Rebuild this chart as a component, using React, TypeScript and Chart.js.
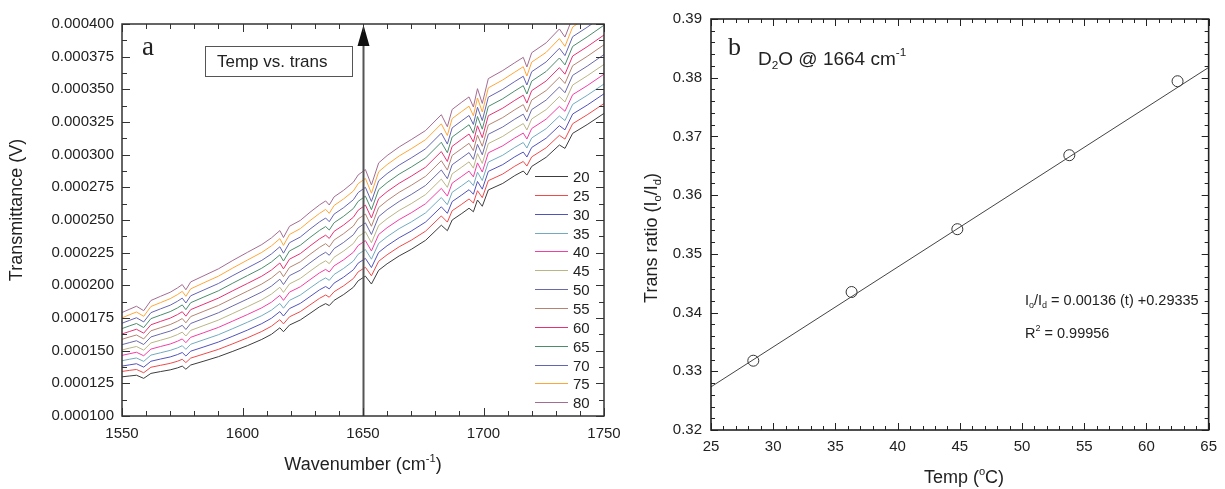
import React, { useEffect, useRef } from 'react';
import { Chart, registerables } from 'chart.js';
Chart.register(...registerables);

// ---------- Panel a: transmittance spectra (values in µV) ----------
const wavenumbers = [1550, 1553, 1556, 1559, 1562, 1566, 1570, 1573, 1575, 1576.5, 1578.5, 1584, 1590, 1596, 1602, 1608, 1612, 1615.5, 1617, 1619.5, 1624, 1628, 1632, 1634.5, 1636, 1638, 1642, 1646, 1648, 1651, 1653.5, 1656.5, 1660, 1665, 1670, 1676, 1682.5, 1685, 1687, 1691, 1694, 1695.8, 1697.5, 1699.5, 1702, 1708, 1713, 1716.5, 1718, 1720, 1726, 1731.5, 1733.8, 1737, 1743, 1750];

const t20 = [130.0, 130.6, 131.2, 128.8, 132.6, 134.0, 135.3, 136.8, 138.2, 135.8, 139.0, 142.0, 145.4, 149.5, 153.8, 158.6, 162.5, 167.5, 164.5, 169.6, 173.5, 178.5, 183.6, 186.0, 184.5, 188.5, 193.0, 198.5, 203.5, 207.0, 201.0, 211.5, 216.5, 222.5, 227.5, 234.5, 246.0, 241.8, 250.0, 255.0, 259.0, 256.3, 265.3, 260.5, 273.0, 278.0, 284.0, 287.5, 284.4, 291.0, 298.0, 307.4, 304.8, 316.3, 323.0, 331.6];
const t25 = [134.1, 134.9, 135.6, 133.1, 137.3, 138.8, 140.3, 141.9, 143.4, 140.9, 144.3, 147.5, 151.0, 155.3, 159.8, 164.7, 168.7, 173.7, 170.5, 175.9, 179.9, 185.0, 190.1, 192.6, 190.9, 195.1, 199.7, 205.2, 210.3, 213.8, 207.3, 218.4, 223.4, 229.5, 234.5, 241.5, 253.1, 248.4, 257.1, 262.1, 266.1, 263.0, 272.4, 267.1, 280.1, 285.2, 291.2, 294.8, 291.3, 298.3, 305.3, 314.8, 311.9, 323.7, 330.5, 339.1];
const t30 = [138.2, 139.1, 140.0, 137.4, 141.9, 143.6, 145.2, 147.0, 148.6, 145.9, 149.6, 152.9, 156.6, 161.1, 165.7, 170.7, 174.8, 179.9, 176.5, 182.2, 186.2, 191.4, 196.6, 199.1, 197.3, 201.7, 206.3, 211.9, 217.0, 220.6, 213.6, 225.2, 230.3, 236.4, 241.5, 248.5, 260.1, 255.1, 264.1, 269.2, 273.2, 269.7, 279.5, 273.6, 287.2, 292.4, 298.4, 302.0, 298.2, 305.5, 312.6, 322.2, 319.0, 331.1, 337.9, 346.6];
const t35 = [142.3, 143.4, 144.4, 141.8, 146.6, 148.4, 150.2, 152.1, 153.8, 151.0, 154.9, 158.4, 162.2, 166.9, 171.7, 176.8, 181.0, 186.1, 182.5, 188.5, 192.6, 197.9, 203.1, 205.7, 203.8, 208.3, 213.0, 218.6, 223.8, 227.4, 220.0, 232.1, 237.2, 243.4, 248.5, 255.5, 267.2, 261.7, 271.2, 276.3, 280.3, 276.3, 286.6, 280.2, 294.3, 299.6, 305.6, 309.3, 305.1, 312.8, 319.9, 329.6, 326.1, 338.5, 345.4, 354.1];
const t40 = [146.4, 147.6, 148.8, 146.1, 151.2, 153.2, 155.1, 157.2, 159.0, 156.1, 160.2, 163.8, 167.8, 172.7, 177.6, 182.8, 187.1, 192.3, 188.5, 194.8, 198.9, 204.3, 209.6, 212.2, 210.2, 214.9, 219.6, 225.3, 230.5, 234.2, 226.3, 238.9, 244.1, 250.3, 255.5, 262.5, 274.2, 268.3, 278.2, 283.4, 287.4, 283.0, 293.7, 286.7, 301.4, 306.8, 312.8, 316.5, 312.0, 320.0, 327.2, 337.0, 333.2, 345.9, 352.8, 361.6];
const t45 = [150.5, 151.9, 153.2, 150.4, 155.9, 158.0, 160.1, 162.3, 164.2, 161.2, 165.5, 169.3, 173.4, 178.5, 183.6, 188.9, 193.3, 198.5, 194.6, 201.1, 205.3, 210.8, 216.1, 218.8, 216.6, 221.5, 226.3, 232.0, 237.3, 241.0, 232.6, 245.8, 251.0, 257.3, 262.5, 269.5, 281.3, 275.0, 285.3, 290.5, 294.5, 289.7, 300.8, 293.3, 308.5, 314.0, 320.0, 323.8, 318.9, 327.3, 334.5, 344.4, 340.3, 353.3, 360.3, 369.1];
const t50 = [154.6, 156.1, 157.6, 154.7, 160.5, 162.8, 165.0, 167.4, 169.4, 166.2, 170.8, 174.7, 179.0, 184.3, 189.5, 194.9, 199.4, 204.7, 200.6, 207.4, 211.6, 217.2, 222.6, 225.3, 223.0, 228.1, 232.9, 238.7, 244.0, 247.8, 238.9, 252.6, 257.9, 264.2, 269.5, 276.5, 288.3, 281.6, 292.3, 297.6, 301.6, 296.4, 307.9, 299.9, 315.6, 321.2, 327.2, 331.0, 325.7, 334.5, 341.8, 351.8, 347.4, 360.7, 367.7, 376.6];
const t55 = [158.7, 160.4, 162.0, 159.0, 165.2, 167.6, 170.0, 172.5, 174.6, 171.3, 176.1, 180.2, 184.6, 190.1, 195.5, 201.0, 205.6, 210.9, 206.6, 213.7, 218.0, 223.7, 229.1, 231.9, 229.4, 234.7, 239.6, 245.4, 250.8, 254.6, 245.2, 259.5, 264.8, 271.2, 276.5, 283.5, 295.4, 288.2, 299.4, 304.7, 308.7, 303.1, 315.0, 306.4, 322.7, 328.4, 334.4, 338.3, 332.6, 341.8, 349.1, 359.2, 354.5, 368.1, 375.2, 384.1];
const t60 = [162.8, 164.6, 166.4, 163.4, 169.8, 172.4, 174.9, 177.6, 179.8, 176.4, 181.4, 185.6, 190.2, 195.9, 201.4, 207.0, 211.7, 217.1, 212.6, 220.0, 224.3, 230.1, 235.6, 238.4, 235.9, 241.3, 246.2, 252.1, 257.5, 261.4, 251.6, 266.3, 271.7, 278.1, 283.5, 290.5, 302.4, 294.8, 306.4, 311.8, 315.8, 309.7, 322.1, 313.0, 329.8, 335.6, 341.6, 345.5, 339.5, 349.0, 356.4, 366.6, 361.6, 375.5, 382.6, 391.6];
const t65 = [166.9, 168.9, 170.8, 167.7, 174.5, 177.2, 179.9, 182.7, 185.0, 181.4, 186.7, 191.1, 195.8, 201.7, 207.4, 213.1, 217.9, 223.3, 218.6, 226.3, 230.7, 236.6, 242.1, 245.0, 242.3, 247.9, 252.9, 258.8, 264.3, 268.2, 257.9, 273.2, 278.6, 285.1, 290.5, 297.5, 309.5, 301.5, 313.5, 318.9, 322.9, 316.4, 329.2, 319.5, 336.9, 342.8, 348.8, 352.8, 346.4, 356.3, 363.7, 374.0, 368.7, 382.9, 390.1, 399.1];
const t70 = [171.0, 173.1, 175.2, 172.0, 179.1, 182.0, 184.8, 187.8, 190.2, 186.5, 192.0, 196.5, 201.4, 207.5, 213.3, 219.1, 224.0, 229.5, 224.6, 232.6, 237.0, 243.0, 248.6, 251.5, 248.7, 254.5, 259.5, 265.5, 271.0, 275.0, 264.2, 280.0, 285.5, 292.0, 297.5, 304.5, 316.5, 308.1, 320.5, 326.0, 330.0, 323.1, 336.3, 326.1, 344.0, 350.0, 356.0, 360.0, 353.3, 363.5, 371.0, 381.4, 375.8, 390.3, 397.5, 406.6];
const t75 = [175.1, 177.4, 179.6, 176.3, 183.8, 186.8, 189.8, 192.9, 195.4, 191.6, 197.3, 202.0, 207.0, 213.3, 219.3, 225.2, 230.2, 235.7, 230.6, 238.9, 243.4, 249.5, 255.1, 258.1, 255.1, 261.1, 266.2, 272.2, 277.8, 281.8, 270.5, 286.9, 292.4, 299.0, 304.5, 311.5, 323.6, 314.7, 327.6, 333.1, 337.1, 329.8, 343.4, 332.7, 351.1, 357.2, 363.2, 367.3, 360.2, 370.8, 378.3, 388.8, 382.9, 397.7, 405.0, 414.1];
const t80 = [179.2, 181.6, 184.0, 180.6, 188.4, 191.6, 194.7, 198.0, 200.6, 196.6, 202.6, 207.4, 212.6, 219.1, 225.2, 231.2, 236.3, 241.9, 236.6, 245.2, 249.7, 255.9, 261.6, 264.6, 261.5, 267.7, 272.8, 278.9, 284.5, 288.6, 276.8, 293.7, 299.3, 305.9, 311.5, 318.5, 330.6, 321.4, 334.6, 340.2, 344.2, 336.5, 350.5, 339.2, 358.2, 364.4, 370.4, 374.5, 367.1, 378.0, 385.6, 396.2, 390.0, 405.1, 412.4, 421.6];

const tempLabels = ['20', '25', '30', '35', '40', '45', '50', '55', '60', '65', '70', '75', '80'];
const spectra = [t20, t25, t30, t35, t40, t45, t50, t55, t60, t65, t70, t75, t80];
const seriesColors = ['#3c3c3c', '#f04a4a', '#5252bc', '#72aac0', '#f23ea6', '#b9b585', '#6a6aaa', '#b48472', '#e63272', '#4c8c6c', '#6464b4', '#ffa63a', '#a46c92'];
const MICRO = 1e-6; // µV -> V

// ---------- Panel b: trans ratio vs temperature ----------
const tempC = [28.4, 36.3, 44.8, 53.8, 62.5];
const transRatio = [0.3318, 0.3435, 0.3542, 0.3668, 0.3794];
const fitTemp = [25, 65];
const fitRatio = [0.32735, 0.38175];

const FONT = '"Liberation Sans", Arial, Helvetica, sans-serif';
const SERIF = '"Liberation Serif", "Times New Roman", serif';
const INK = '#222';

type Part = { t: string; s?: 'sup' | 'sub' };

function drawRich(ctx: CanvasRenderingContext2D, parts: Part[], x: number, y: number, size: number, align: 'left' | 'center', rotate = false) {
  ctx.save();
  ctx.translate(x, y);
  if (rotate) ctx.rotate(-Math.PI / 2);
  let w = 0;
  for (const p of parts) {
    ctx.font = `${p.s ? size * 0.62 : size}px ${FONT}`;
    w += ctx.measureText(p.t).width;
  }
  let cx = align === 'center' ? -w / 2 : 0;
  ctx.fillStyle = INK;
  ctx.textBaseline = 'middle';
  ctx.textAlign = 'left';
  for (const p of parts) {
    const fs = p.s ? size * 0.62 : size;
    ctx.font = `${fs}px ${FONT}`;
    const dy = p.s === 'sup' ? -size * 0.36 : p.s === 'sub' ? size * 0.32 : 0;
    ctx.fillText(p.t, cx, dy);
    cx += ctx.measureText(p.t).width;
  }
  ctx.restore();
}

type TickCfg = { xMajor: number; xMinor: number; yMajor: number; yMinor: number; majorLen: number; minorLen: number; frameWidth: number; color: string };

function drawFrameTicks(chart: any, cfg: TickCfg) {
  const { ctx, chartArea: a, scales } = chart;
  const xs = scales.x, ys = scales.y;
  ctx.save();
  ctx.strokeStyle = cfg.color;
  ctx.lineWidth = 1;
  ctx.beginPath();
  const nx = Math.round((xs.max - xs.min) / cfg.xMinor);
  const rx = Math.round(cfg.xMajor / cfg.xMinor);
  for (let i = 0; i <= nx; i++) {
    const px = Math.round(xs.getPixelForValue(xs.min + i * cfg.xMinor)) + 0.5;
    const L = i % rx === 0 ? cfg.majorLen : cfg.minorLen;
    ctx.moveTo(px, a.bottom); ctx.lineTo(px, a.bottom - L);
    ctx.moveTo(px, a.top); ctx.lineTo(px, a.top + L);
  }
  const ny = Math.round((ys.max - ys.min) / cfg.yMinor);
  const ry = Math.round(cfg.yMajor / cfg.yMinor);
  for (let i = 0; i <= ny; i++) {
    const py = Math.round(ys.getPixelForValue(ys.min + i * cfg.yMinor)) + 0.5;
    const L = i % ry === 0 ? cfg.majorLen : cfg.minorLen;
    ctx.moveTo(a.left, py); ctx.lineTo(a.left + L, py);
    ctx.moveTo(a.right, py); ctx.lineTo(a.right - L, py);
  }
  ctx.stroke();
  ctx.lineWidth = cfg.frameWidth;
  ctx.strokeRect(a.left, a.top, a.right - a.left, a.bottom - a.top);
  ctx.restore();
}

function SpectraChart() {
  const ref = useRef<HTMLCanvasElement | null>(null);
  useEffect(() => {
    if (!ref.current) return;
    const datasets = spectra.map((s, k) => ({
      label: tempLabels[k],
      data: wavenumbers.map((w, i) => ({ x: w, y: s[i] * MICRO })),
      borderColor: seriesColors[k],
      borderWidth: 1,
      pointRadius: 0,
      tension: 0,
      fill: false,
    }));
    const decor = {
      id: 'decorA',
      afterDatasetsDraw(chart: any) {
        const { ctx, chartArea: a, scales } = chart;
        // arrow at 1650
        const ax = Math.round(scales.x.getPixelForValue(1650)) + 0.5;
        ctx.save();
        ctx.strokeStyle = '#555';
        ctx.lineWidth = 2;
        ctx.beginPath();
        ctx.moveTo(ax, a.bottom);
        ctx.lineTo(ax, a.top + 18);
        ctx.stroke();
        ctx.fillStyle = '#111';
        ctx.beginPath();
        ctx.moveTo(ax, a.top + 1);
        ctx.lineTo(ax - 6, a.top + 22);
        ctx.lineTo(ax + 6, a.top + 22);
        ctx.closePath();
        ctx.fill();
        ctx.restore();
      },
      afterDraw(chart: any) {
        const { ctx } = chart;
        drawFrameTicks(chart, { xMajor: 50, xMinor: 10, yMajor: 25 * MICRO, yMinor: 12.5 * MICRO, majorLen: 8, minorLen: 5, frameWidth: 1.5, color: '#333' });
        ctx.save();
        // panel letter
        ctx.fillStyle = INK;
        ctx.font = `27px ${SERIF}`;
        ctx.textBaseline = 'alphabetic';
        ctx.textAlign = 'left';
        ctx.fillText('a', 142, 55);
        // box label
        ctx.strokeStyle = '#555';
        ctx.lineWidth = 1;
        ctx.strokeRect(205.5, 46.5, 147, 30);
        ctx.font = `17px ${FONT}`;
        ctx.textBaseline = 'middle';
        ctx.fillText('Temp vs. trans', 217, 62);
        // legend
        chart.data.datasets.forEach((ds: any, i: number) => {
          const ly = Math.round(176 + i * 18.85) + 0.5;
          ctx.strokeStyle = ds.borderColor;
          ctx.lineWidth = 1;
          ctx.beginPath();
          ctx.moveTo(535, ly);
          ctx.lineTo(568, ly);
          ctx.stroke();
          ctx.fillStyle = INK;
          ctx.font = `15px ${FONT}`;
          ctx.textBaseline = 'middle';
          ctx.fillText(ds.label, 573, ly + 1);
        });
        ctx.restore();
        drawRich(ctx, [{ t: 'Transmittance (V)' }], 17, 210, 18, 'center', true);
        drawRich(ctx, [{ t: 'Wavenumber (cm' }, { t: '-1', s: 'sup' }, { t: ')' }], 363, 465, 18, 'center');
      },
    };
    const chart = new Chart(ref.current, {
      type: 'line',
      data: { datasets },
      options: {
        animation: false,
        responsive: false,
        maintainAspectRatio: false,
        layout: { padding: { top: 24, right: 26, left: 0, bottom: 0 } },
        scales: {
          x: {
            type: 'linear', min: 1550, max: 1750,
            ticks: { stepSize: 50, padding: 9, color: INK, font: { family: FONT, size: 15 }, maxRotation: 0, autoSkip: false, callback: (v: any) => String(Math.round(Number(v))) },
            grid: { display: false, drawTicks: false },
            border: { display: false },
            afterFit: (s: any) => { s.height = 73; },
          },
          y: {
            type: 'linear', min: 100 * MICRO, max: 400 * MICRO,
            ticks: { stepSize: 25 * MICRO, padding: 8, color: INK, font: { family: FONT, size: 15 }, autoSkip: false, callback: (v: any) => Number(v).toFixed(6) },
            grid: { display: false, drawTicks: false },
            border: { display: false },
            afterFit: (s: any) => { s.width = 122; },
          },
        },
        plugins: { legend: { display: false }, tooltip: { enabled: false } },
      },
      plugins: [decor],
    } as any);
    return () => chart.destroy();
  }, []);
  return <canvas ref={ref} width={630} height={489} style={{ position: 'absolute', left: 0, top: 0 }} />;
}

function RatioChart() {
  const ref = useRef<HTMLCanvasElement | null>(null);
  useEffect(() => {
    if (!ref.current) return;
    const decor = {
      id: 'decorB',
      afterDraw(chart: any) {
        const { ctx } = chart;
        drawFrameTicks(chart, { xMajor: 5, xMinor: 1, yMajor: 0.01, yMinor: 0.002, majorLen: 7, minorLen: 4, frameWidth: 1.6, color: '#222' });
        ctx.save();
        ctx.fillStyle = INK;
        ctx.font = `26px ${SERIF}`;
        ctx.textBaseline = 'alphabetic';
        ctx.textAlign = 'left';
        ctx.fillText('b', 108, 55);
        ctx.restore();
        drawRich(ctx, [{ t: 'D' }, { t: '2', s: 'sub' }, { t: 'O @ 1664 cm' }, { t: '-1', s: 'sup' }], 138, 60, 19, 'left');
        drawRich(ctx, [{ t: 'I' }, { t: 'o', s: 'sub' }, { t: '/I' }, { t: 'd', s: 'sub' }, { t: ' = 0.00136 (t) +0.29335' }], 405, 301, 14.5, 'left');
        drawRich(ctx, [{ t: 'R' }, { t: '2', s: 'sup' }, { t: ' = 0.99956' }], 405, 334, 14.5, 'left');
        drawRich(ctx, [{ t: 'Trans ratio (I' }, { t: 'o', s: 'sub' }, { t: '/I' }, { t: 'd', s: 'sub' }, { t: ')' }], 32, 238, 18, 'center', true);
        drawRich(ctx, [{ t: 'Temp (' }, { t: 'o', s: 'sup' }, { t: 'C)' }], 344, 478, 18, 'center');
      },
    };
    const chart = new Chart(ref.current, {
      type: 'scatter',
      data: {
        datasets: [
          {
            label: 'fit',
            data: fitTemp.map((t, i) => ({ x: t, y: fitRatio[i] })),
            showLine: true,
            borderColor: '#444',
            borderWidth: 1,
            pointRadius: 0,
          },
          {
            label: 'ratio',
            data: tempC.map((t, i) => ({ x: t, y: transRatio[i] })),
            showLine: false,
            pointStyle: 'circle',
            pointRadius: 5.5,
            pointBorderWidth: 1,
            pointBorderColor: '#333',
            pointBackgroundColor: 'rgba(0,0,0,0)',
          },
        ],
      },
      options: {
        animation: false,
        responsive: false,
        maintainAspectRatio: false,
        layout: { padding: { top: 19, right: 9, left: 0, bottom: 0 } },
        scales: {
          x: {
            type: 'linear', min: 25, max: 65,
            ticks: { stepSize: 5, padding: 8, color: INK, font: { family: FONT, size: 15 }, maxRotation: 0, autoSkip: false },
            grid: { display: false, drawTicks: false },
            border: { display: false },
            afterFit: (s: any) => { s.height = 59; },
          },
          y: {
            type: 'linear', min: 0.32, max: 0.39,
            ticks: { stepSize: 0.01, padding: 9, color: INK, font: { family: FONT, size: 15 }, autoSkip: false, callback: (v: any) => Number(v).toFixed(2) },
            grid: { display: false, drawTicks: false },
            border: { display: false },
            afterFit: (s: any) => { s.width = 91; },
          },
        },
        plugins: { legend: { display: false }, tooltip: { enabled: false } },
      },
      plugins: [decor],
    } as any);
    return () => chart.destroy();
  }, []);
  return <canvas ref={ref} width={605} height={489} style={{ position: 'absolute', left: 620, top: 0 }} />;
}

export default function App() {
  return (
    <div style={{ position: 'absolute', left: 0, top: 0, width: 1225, height: 489, background: '#fff', overflow: 'hidden' }}>
      <SpectraChart />
      <RatioChart />
    </div>
  );
}
